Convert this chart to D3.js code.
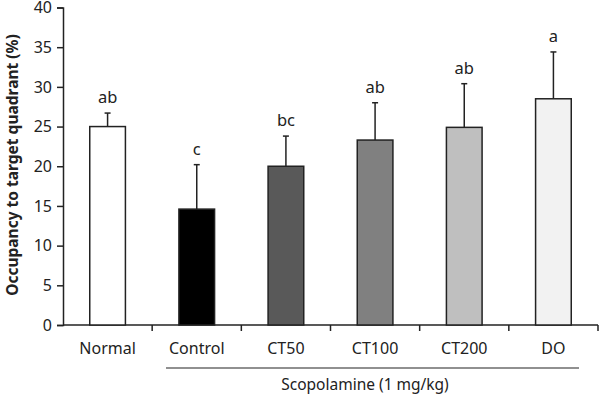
<!DOCTYPE html>
<html>
<head>
<meta charset="utf-8">
<script src="https://cdn.jsdelivr.net/npm/d3@7"></script>
<style>
  body { margin: 0; background: #fff; }
  text { font-family: "Noto Sans", "Open Sans", sans-serif; fill: #222; }
</style>
</head>
<body>
<div id="chart"></div>
<script>
var groups = ["Normal", "Control", "CT50", "CT100", "CT200", "DO"];
var means = [25.0, 14.6, 20.0, 23.3, 24.9, 28.5];
var errors = [1.7, 5.6, 3.8, 4.7, 5.5, 5.9];
var letters = ["ab", "c", "bc", "ab", "ab", "a"];
var fills = ["#ffffff", "#000000", "#595959", "#808080", "#bfbfbf", "#f2f2f2"];
var yTicks = [0, 5, 10, 15, 20, 25, 30, 35, 40];

var width = 602, height = 398;
var svg = d3.select("#chart").append("svg")
    .attr("width", width)
    .attr("height", height);

var x = d3.scaleBand().domain(groups).range([63, 598]).padding(0);
var y = d3.scaleLinear().domain([0, 40]).range([325, 7.5]);
var barW = x.bandwidth() * 0.4;

// y axis
var yAxis = svg.append("g")
    .attr("transform", "translate(63,0)")
    .call(d3.axisLeft(y).tickValues(yTicks).tickSize(6).tickPadding(5));
yAxis.select(".domain").attr("stroke", "#222").attr("stroke-width", 1.5);
yAxis.selectAll(".tick line").attr("stroke", "#222").attr("stroke-width", 1.5);
yAxis.selectAll(".tick text").style("font-size", "16px").attr("fill", "#222");

// x axis (labels only, ticks between groups)
var xAxis = svg.append("g")
    .attr("transform", "translate(0,325)")
    .call(d3.axisBottom(x).tickSize(0).tickPadding(0));
xAxis.select(".domain").remove();
xAxis.selectAll(".tick text").attr("y", 18).style("font-size", "16px").attr("fill", "#222");

svg.append("line")
    .attr("x1", 63).attr("x2", 598)
    .attr("y1", y(0)).attr("y2", y(0))
    .attr("stroke", "#222").attr("stroke-width", 1.5);

svg.append("g").selectAll("line")
    .data(groups)
    .enter().append("line")
    .attr("x1", function(d) { return x(d) + x.bandwidth(); })
    .attr("x2", function(d) { return x(d) + x.bandwidth(); })
    .attr("y1", y(0)).attr("y2", y(0) + 6)
    .attr("stroke", "#222").attr("stroke-width", 1.5);

// error bars
var eb = svg.append("g");
groups.forEach(function(g, i) {
  var cx = x(g) + x.bandwidth() / 2;
  eb.append("line")
    .attr("x1", cx).attr("x2", cx)
    .attr("y1", y(means[i])).attr("y2", y(means[i] + errors[i]))
    .attr("stroke", "#222").attr("stroke-width", 1.5);
  eb.append("line")
    .attr("x1", cx - 3).attr("x2", cx + 3)
    .attr("y1", y(means[i] + errors[i])).attr("y2", y(means[i] + errors[i]))
    .attr("stroke", "#222").attr("stroke-width", 1.5);
  svg.append("text")
    .attr("x", cx)
    .attr("y", y(means[i] + errors[i]) - 10)
    .attr("text-anchor", "middle")
    .style("font-size", "16.5px")
    .text(letters[i]);
});

// bars
svg.append("g").selectAll("rect")
    .data(groups)
    .enter().append("rect")
    .attr("x", function(d) { return x(d) + (x.bandwidth() - barW) / 2; })
    .attr("y", function(d, i) { return y(means[i]); })
    .attr("width", barW)
    .attr("height", function(d, i) { return y(0) - y(means[i]); })
    .attr("fill", function(d, i) { return fills[i]; })
    .attr("stroke", "#222")
    .attr("stroke-width", 1.5);

// y title
svg.append("text")
    .attr("transform", "translate(18,165) rotate(-90)")
    .attr("text-anchor", "middle")
    .style("font-size", "15.5px")
    .style("font-weight", "bold")
    .text("Occupancy to target quadrant (%)");

// scopolamine bracket
svg.append("line")
    .attr("x1", 166).attr("x2", 579)
    .attr("y1", 368).attr("y2", 368)
    .attr("stroke", "#222").attr("stroke-width", 1.2);
svg.append("text")
    .attr("x", 365).attr("y", 390)
    .attr("text-anchor", "middle")
    .style("font-size", "15.5px")
    .text("Scopolamine (1 mg/kg)");
</script>
</body>
</html>
